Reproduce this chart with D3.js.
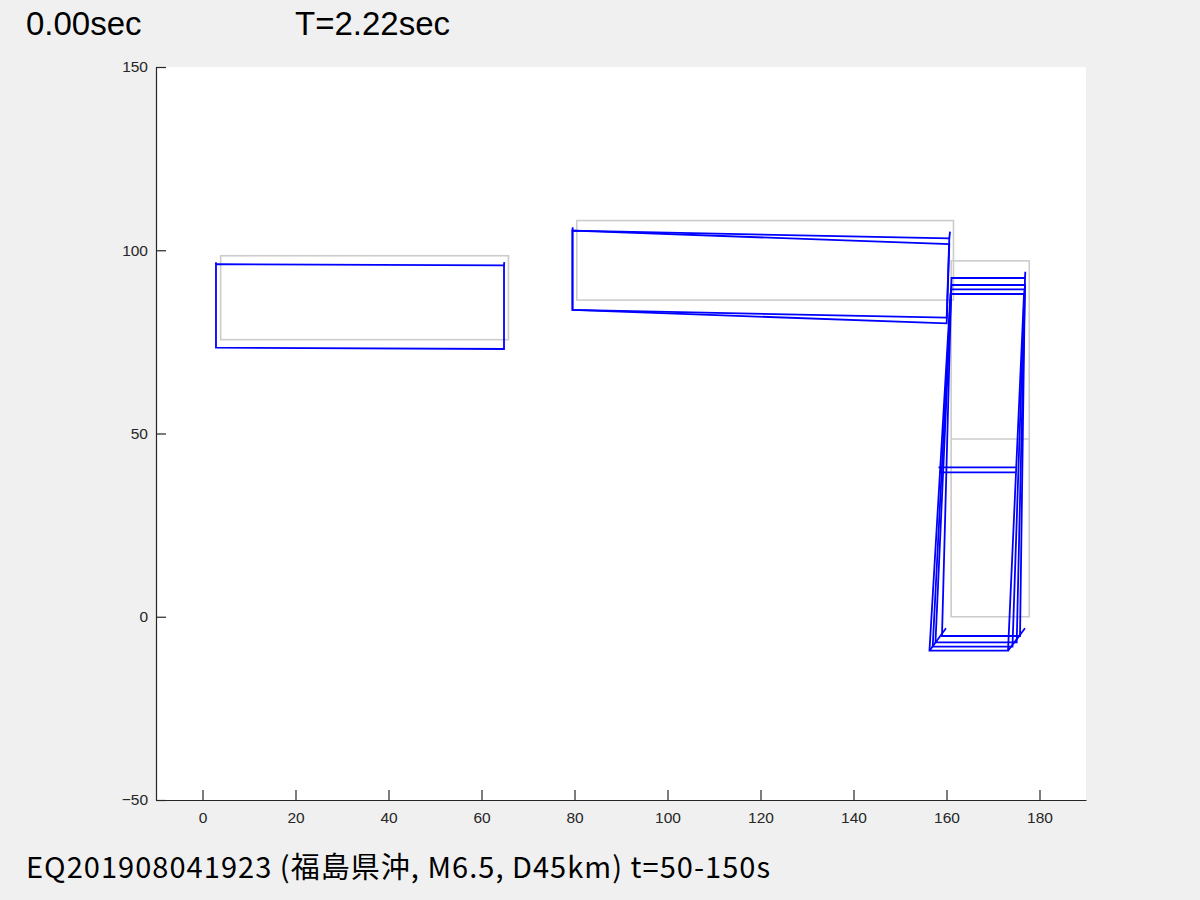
<!DOCTYPE html>
<html>
<head>
<meta charset="utf-8">
<script src="https://cdn.jsdelivr.net/npm/d3@7"></script>
<style>
  body { margin: 0; background: #f0f0f0; }
  svg { display: block; }
</style>
</head>
<body>
<svg width="1200" height="900"></svg>
<script>
var xTicks = [0, 20, 40, 60, 80, 100, 120, 140, 160, 180];
var yTicks = [-50, 0, 50, 100, 150];

// original (undeformed) plan, gray
var grayRects = [
  {x1: 3.9, x2: 65.8, y1: 75.6, y2: 98.5},
  {x1: 80.5, x2: 161.5, y1: 86.4, y2: 108.1},
  {x1: 161.0, x2: 177.8, y1: 0, y2: 97.1}
];
var grayBeams = [{x1: 161.0, x2: 177.8, y: 48.5}];

// deformed frame, one entry per floor level: corners tl, tr, br, bl
var block1Levels = [
  [[2.90, 96.21], [64.84, 95.89], [64.84, 73.06], [2.90, 73.41]]
];
var block2Levels = [
  [[79.57, 105.33], [160.60, 103.26], [160.04, 81.60], [79.57, 83.70]],
  [[79.57, 105.33], [160.60, 101.70], [160.04, 80.07], [79.57, 83.70]]
];
var block3Levels = [
  [[161.08, 92.43], [176.88, 92.43], [175.81, -5.25], [159.03, -5.25]],
  [[161.08, 90.52], [176.88, 90.52], [175.10, -6.97], [157.63, -6.97]],
  [[160.97, 89.35], [176.77, 89.35], [174.19, -8.17], [157.03, -8.17]],
  [[160.86, 88.06], [176.67, 88.06], [173.23, -9.26], [156.34, -9.26]]
];
var block3Beams = [
  [[158.28, 40.78], [174.95, 40.78]],
  [[158.39, 39.41], [174.84, 39.41]]
];
// column stubs seen out of plane
var columns = [
  [[2.90, 96.21], [2.90, 96.76]],
  [[64.84, 95.89], [64.90, 96.76]],
  [[79.57, 105.33], [79.61, 106.26]],
  [[160.60, 103.26], [160.75, 105.06]],
  [[176.88, 92.43], [176.95, 94.15]],
  [[156.34, -9.26], [159.89, -3.15]],
  [[173.23, -9.26], [176.88, -3.15]]
];

var timeLabel = "0.00sec";
var periodLabel = "T=2.22sec";
var caption = "EQ201908041923 (福島県沖, M6.5, D45km) t=50-150s";

var svg = d3.select("svg");
var margin = {left: 156, top: 67, right: 114, bottom: 100};
var W = 1200 - margin.left - margin.right,
    H = 900 - margin.top - margin.bottom;

var x = d3.scaleLinear().domain([-10, 190]).range([0, W]);
var y = d3.scaleLinear().domain([-50, 150]).range([H, 0]);

var g = svg.append("g").attr("transform", "translate(" + margin.left + "," + margin.top + ")");

g.append("rect").attr("width", W).attr("height", H).attr("fill", "#fff");

var line = d3.line().x(function(d) { return x(d[0]); }).y(function(d) { return y(d[1]); });

// gray original shape
g.selectAll(".orig").data(grayRects).enter().append("rect")
    .attr("class", "orig")
    .attr("x", function(d) { return x(d.x1); })
    .attr("y", function(d) { return y(d.y2); })
    .attr("width", function(d) { return x(d.x2) - x(d.x1); })
    .attr("height", function(d) { return y(d.y1) - y(d.y2); })
    .attr("fill", "none")
    .attr("stroke", "#cccccc")
    .attr("stroke-width", 1.6);

g.selectAll(".origbeam").data(grayBeams).enter().append("line")
    .attr("x1", function(d) { return x(d.x1); })
    .attr("x2", function(d) { return x(d.x2); })
    .attr("y1", function(d) { return y(d.y); })
    .attr("y2", function(d) { return y(d.y); })
    .attr("stroke", "#cccccc")
    .attr("stroke-width", 1.6);

// blue deformed shape
var levels = block1Levels.concat(block2Levels, block3Levels);
var blue = g.append("g")
    .attr("fill", "none")
    .attr("stroke", "#0000ff")
    .attr("stroke-width", 1.8);

blue.selectAll(".lvl").data(levels).enter().append("path")
    .attr("d", function(d) { return line(d) + "Z"; });

blue.selectAll(".beam").data(block3Beams).enter().append("path")
    .attr("d", line);

blue.selectAll(".col").data(columns).enter().append("path")
    .attr("d", line);

// axes
var axisColor = "#262626";
var xAxis = g.append("g")
    .attr("transform", "translate(0," + H + ")")
    .call(d3.axisBottom(x).tickValues(xTicks).tickSize(-10).tickPadding(12).tickSizeOuter(0));
var yAxis = g.append("g")
    .call(d3.axisLeft(y).tickValues(yTicks).tickSize(-10).tickPadding(8).tickSizeOuter(0)
      .tickFormat(function(d) { return d < 0 ? "\u2212" + Math.abs(d) : d; }));

[xAxis, yAxis].forEach(function(a) {
  a.select(".domain").attr("stroke", axisColor).attr("stroke-width", 1.2);
  a.selectAll(".tick line").attr("stroke", axisColor).attr("stroke-width", 1.2);
  a.selectAll(".tick text")
      .attr("fill", axisColor)
      .style("font-family", "'Liberation Sans', Arial, sans-serif")
      .style("font-size", "15.5px");
});

// labels
var sans = "'Liberation Sans', Arial, sans-serif";
var jp = "'Noto Sans CJK JP', sans-serif";
svg.append("text").attr("x", 26).attr("y", 35)
    .style("font-family", sans).style("font-size", "33px").attr("fill", "#000")
    .text(timeLabel);
svg.append("text").attr("x", 295).attr("y", 35)
    .style("font-family", sans).style("font-size", "33px").attr("fill", "#000")
    .text(periodLabel);
svg.append("text").attr("x", 26).attr("y", 878)
    .style("font-family", jp).style("font-size", "29px").attr("fill", "#000")
    .attr("textLength", 744).attr("lengthAdjust", "spacing")
    .text(caption);
</script>
</body>
</html>
